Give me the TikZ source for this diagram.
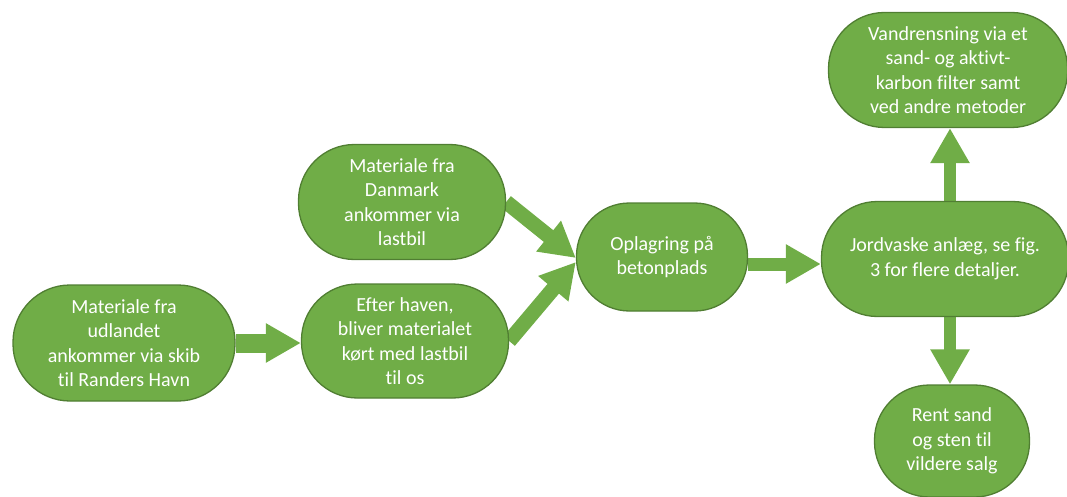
\documentclass[tikz,border=0pt]{standalone}
\usepackage{fontspec}
\setmainfont{Carlito}[Ligatures=NoCommon]
\usetikzlibrary{arrows.meta,backgrounds}
\definecolor{gfill}{HTML}{70AD47}
\definecolor{gline}{HTML}{507E32}
\begin{document}
\begin{tikzpicture}[x=1pt,y=-1pt,
  term/.style={draw=gline, line width=1.3pt, fill=gfill, text=white, align=center,
    inner sep=0pt, font=\fontsize{20}{24.5}\selectfont},
  blockarrow/.style={draw=gfill, line width=#1, -{Triangle[width=37pt,length=35pt]}},
  blockarrow/.default=14pt]
\useasboundingbox (0,0) rectangle (1067,497);
\node[term, minimum width=222pt, minimum height=116pt, rounded corners=57pt] (n1) at (124,343)
  {Materiale fra\\udlandet\\ankommer via skib\\til Randers Havn};
\node[term, minimum width=207pt, minimum height=114pt, rounded corners=56pt] (n2) at (405,341)
  {Efter haven,\\bliver materialet\\kørt med lastbil\\til os};
\node[term, minimum width=207pt, minimum height=115pt, rounded corners=56pt] (n3) at (402,202)
  {Materiale fra\\Danmark\\ankommer via\\lastbil};
\node[term, minimum width=171pt, minimum height=108pt, rounded corners=53pt] (n4) at (662,257)
  {Oplagring på\\betonplads};
\node[term, minimum width=247pt, minimum height=115pt, rounded corners=56pt] (n5) at (945,259)
  {Jordvaske anlæg, se fig.\\3 for flere detaljer.};
\node[term, minimum width=239pt, minimum height=115pt, rounded corners=56pt] (n6) at (948,70)
  {Vandrensning via et\\sand- og aktivt-\\karbon filter samt\\ved andre metoder};
\node[term, minimum width=155pt, minimum height=112pt, rounded corners=55pt] (n7) at (952,441)
  {Rent sand\\og sten til\\vildere salg};
\begin{scope}[on background layer]
\draw[blockarrow=19pt] (n1.east) -- (n1.east -| n2.west);
\draw[blockarrow=15pt] (n3.east) -- ([yshift=-1pt]n4.west);
\draw[blockarrow=15pt] (n2.east) -- ([yshift=-5pt]n4.west);
\draw[blockarrow=13pt] ([yshift=-7pt]n4.east) -- ([yshift=-7pt]n4.east -| n5.west);
\draw[blockarrow=12pt] ([xshift=5pt]n5.north) -- ([xshift=5pt]n5.north |- n6.south);
\draw[blockarrow=12pt] ([xshift=5pt]n5.south) -- ([xshift=5pt]n5.south |- n7.north);
\end{scope}
\end{tikzpicture}
\end{document}
